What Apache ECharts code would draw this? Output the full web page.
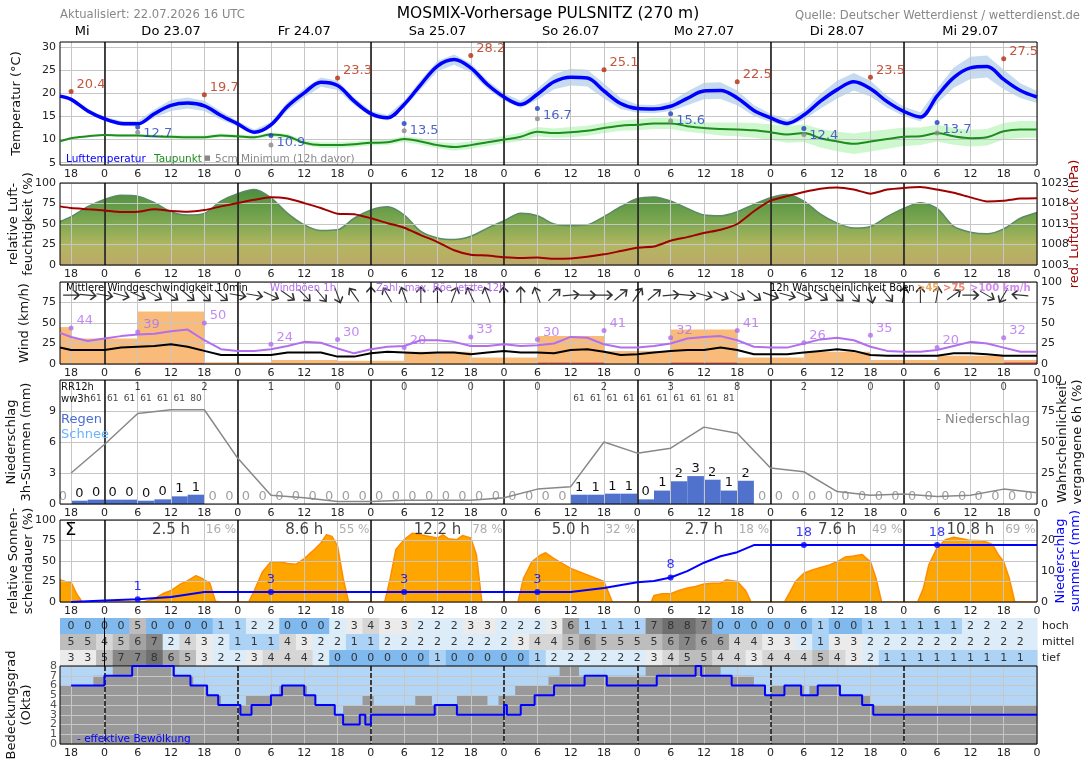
<!DOCTYPE html>
<html lang="de">
<head>
<meta charset="utf-8">
<title>MOSMIX-Vorhersage PULSNITZ</title>
<script src="https://cdn.jsdelivr.net/npm/echarts@6.0.0/dist/echarts.min.js"></script>
<style>
  html, body { margin: 0; padding: 0; background: #fff; }
  #meteogram { width: 1088px; height: 763px; }
</style>
</head>
<body>
<div id="meteogram"></div>
<script>
// time axis: hours relative to Do 23.07 00 UTC
const X_MIN = -8, X_MAX = 168;
const tickHours = [-6, 0, 6, 12, 18, 24, 30, 36, 42, 48, 54, 60, 66, 72, 78, 84, 90, 96, 102, 108, 114, 120, 126, 132, 138, 144, 150, 156, 162, 168];
const midnightHours = [0, 24, 48, 72, 96, 120, 144];
const dayHours = [-4, 12, 36, 60, 84, 108, 132, 156];
const dayNames = ['Mi', 'Do 23.07', 'Fr 24.07', 'Sa 25.07', 'So 26.07', 'Mo 27.07', 'Di 28.07', 'Mi 29.07'];

// 3-hourly series
const hours3 = [-8, -6, -3, 0, 3, 6, 9, 12, 15, 18, 21, 24, 27, 30, 33, 36, 39, 42, 45, 48, 51, 54, 57, 60, 63, 66, 69, 72, 75, 78, 81, 84, 87, 90, 93, 96, 99, 102, 105, 108, 111, 114, 117, 120, 123, 126, 129, 132, 135, 138, 141, 144, 147, 150, 153, 156, 159, 162, 165, 168];
const temperature = [19.4, 18.7, 16.2, 14.5, 13.5, 13.4, 15.6, 17.4, 17.9, 17.3, 15.2, 13.4, 11.6, 13.2, 17.2, 20.1, 22.4, 21.7, 18.3, 15.6, 14.7, 17.6, 21.9, 25.9, 27.3, 25.5, 21.9, 19.2, 17.6, 19.8, 22.5, 23.5, 23.3, 20.5, 17.8, 16.7, 16.6, 17.2, 18.9, 20.5, 20.6, 19.0, 16.3, 14.7, 13.5, 15.3, 18.3, 20.8, 22.5, 21.0, 18.2, 16.1, 14.9, 19.4, 23.4, 25.5, 25.8, 23.0, 20.6, 19.2];
const tempSpread = [0.3, 0.4, 0.4, 0.5, 0.5, 0.6, 0.9, 1.2, 1.2, 1.1, 0.9, 0.6, 0.5, 0.6, 0.9, 1.0, 1.0, 1.0, 0.8, 0.6, 0.6, 0.8, 1.0, 1.1, 1.1, 1.0, 0.9, 0.8, 0.8, 1.2, 1.6, 1.8, 1.8, 1.6, 1.2, 0.9, 0.9, 1.0, 1.5, 1.8, 1.8, 1.6, 1.2, 0.9, 0.8, 1.0, 1.6, 1.9, 1.9, 1.7, 1.3, 1.0, 1.0, 1.6, 2.2, 2.4, 2.4, 2.1, 1.6, 1.3];
const dewPoint = [9.6, 10.3, 10.7, 11.0, 10.9, 10.9, 10.7, 10.6, 10.5, 10.5, 10.9, 10.7, 10.5, 11.1, 10.7, 9.3, 8.8, 8.8, 9.0, 9.3, 9.4, 10.1, 9.6, 8.8, 8.4, 8.8, 9.4, 10.0, 10.6, 11.7, 11.4, 11.6, 11.9, 12.5, 13.0, 13.2, 13.5, 13.5, 12.9, 12.5, 12.3, 12.2, 12.0, 11.6, 11.1, 11.4, 10.3, 9.6, 9.1, 9.6, 10.1, 10.6, 10.7, 11.4, 10.7, 10.3, 10.5, 11.8, 12.2, 12.2];
const dewSpread = [0.2, 0.2, 0.2, 0.2, 0.3, 0.3, 0.3, 0.4, 0.4, 0.4, 0.4, 0.4, 0.4, 0.5, 0.5, 0.5, 0.6, 0.6, 0.6, 0.6, 0.6, 0.6, 0.7, 0.7, 0.8, 0.8, 0.8, 0.8, 0.9, 1.0, 1.0, 1.1, 1.1, 1.1, 1.1, 1.2, 1.2, 1.2, 1.2, 1.2, 1.4, 1.5, 1.6, 1.7, 1.8, 1.9, 2.0, 2.1, 2.2, 2.2, 2.1, 2.0, 1.9, 1.8, 1.8, 1.8, 1.8, 1.8, 1.8, 1.8];
const maxTempHours = [-6, 18, 42, 66, 90, 114, 138, 162];
const maxTemp = [20.4, 19.7, 23.3, 28.2, 25.1, 22.5, 23.5, 27.5];
const minTempHours = [6, 30, 54, 78, 102, 126, 150];
const minTemp = [12.7, 10.9, 13.5, 16.7, 15.6, 12.4, 13.7];
const groundMin = [11.6, 8.8, 11.9, 14.5, 14.0, 11.1, 11.4];

const humidity = [53, 59, 71, 80, 85, 84, 76, 65, 61, 63, 78, 87, 92, 82, 63, 49, 42, 43, 57, 67, 71, 61, 41, 33, 31, 35, 45, 54, 63, 60, 50, 48, 49, 59, 71, 81, 83, 78, 69, 61, 60, 65, 74, 82, 86, 78, 62, 51, 45, 47, 59, 69, 76, 69, 47, 40, 38, 44, 57, 64];
const pressure = [1017.3, 1016.9, 1016.6, 1016.3, 1015.9, 1016.0, 1016.6, 1016.2, 1016.0, 1016.4, 1017.3, 1018.1, 1018.9, 1019.5, 1019.2, 1018.1, 1016.9, 1015.5, 1015.4, 1014.4, 1013.2, 1012.1, 1010.3, 1008.6, 1006.6, 1005.5, 1005.3, 1004.9, 1004.7, 1004.8, 1004.5, 1004.6, 1005.0, 1005.6, 1006.4, 1007.2, 1007.5, 1008.9, 1009.8, 1010.8, 1011.6, 1013.0, 1016.1, 1018.7, 1019.8, 1020.8, 1021.6, 1021.9, 1021.4, 1020.4, 1021.4, 1021.8, 1022.0, 1021.4, 1020.6, 1019.5, 1018.5, 1018.7, 1019.2, 1019.3];

const windMean = [20, 17, 17, 17, 20, 21, 22, 24, 21, 16, 11, 11, 11, 11, 14, 14, 14, 9, 9, 13, 15, 14, 13, 14, 14, 12, 14, 16, 14, 14, 13, 17, 18, 15, 11, 12, 14, 16, 17, 17, 20, 17, 12, 12, 12, 14, 16, 18, 16, 11, 10, 10, 10, 10, 13, 13, 12, 10, 10, 10];
const windGust = [38, 33, 28, 31, 34, 36, 37, 40, 42, 29, 18, 16, 16, 18, 22, 27, 26, 19, 13, 18, 21, 22, 29, 29, 27, 22, 22, 24, 22, 23, 25, 33, 32, 24, 20, 20, 22, 25, 31, 33, 34, 29, 21, 20, 20, 25, 30, 32, 29, 21, 16, 15, 15, 17, 22, 27, 25, 20, 15, 15];
const gustBlockStart = [-8, -6, 6, 18, 30, 42, 54, 66, 78, 90, 102, 114, 126, 138, 150, 162];
const gustProb45 = [45, 31, 64, 2, 5, 4, 15, 8, 34, 16, 42, 8, 15, 5, 10, 5];
const gustProb75 = [0, 0, 1.5, 0, 0, 0, 0, 0, 2, 0, 2, 0, 0, 0, 0, 2.5];
const maxGustHours = [-6, 6, 18, 30, 42, 54, 66, 78, 90, 102, 114, 126, 138, 150, 162];
const maxGust = [44, 39, 50, 24, 30, 20, 33, 30, 41, 32, 41, 26, 35, 20, 32];
const arrowHours = [-6, -3, 0, 3, 6, 9, 12, 15, 18, 21, 24, 27, 30, 33, 36, 39, 42, 45, 48, 51, 54, 57, 60, 63, 66, 69, 72, 75, 78, 81, 84, 87, 90, 93, 96, 99, 102, 105, 108, 111, 114, 117, 120, 123, 126, 129, 132, 135, 138, 141, 144, 147, 150, 153, 156, 159, 162, 165];
const windDir = [270, 275, 280, 285, 295, 300, 305, 310, 315, 310, 280, 280, 295, 305, 315, 320, 340, 145, 180, 150, 160, 180, 180, 200, 155, 160, 175, 180, 160, 225, 265, 270, 270, 230, 215, 230, 265, 275, 285, 295, 300, 305, 290, 285, 295, 305, 315, 320, 345, 320, 190, 180, 190, 235, 270, 300, 30, 95];

const precipHours = [-7.5, -4.5, -1.5, 1.5, 4.5, 7.5, 10.5, 13.5, 16.5, 19.5, 22.5, 25.5, 28.5, 31.5, 34.5, 37.5, 40.5, 43.5, 46.5, 49.5, 52.5, 55.5, 58.5, 61.5, 64.5, 67.5, 70.5, 73.5, 76.5, 79.5, 82.5, 85.5, 88.5, 91.5, 94.5, 97.5, 100.5, 103.5, 106.5, 109.5, 112.5, 115.5, 118.5, 121.5, 124.5, 127.5, 130.5, 133.5, 136.5, 139.5, 142.5, 145.5, 148.5, 151.5, 154.5, 157.5, 160.5, 163.5, 166.5];
const precip3h = [0, 0.32, 0.42, 0.42, 0.42, 0.32, 0.45, 0.74, 0.9, 0, 0, 0, 0, 0, 0, 0, 0, 0, 0, 0, 0, 0, 0, 0, 0, 0, 0, 0, 0, 0, 0, 0.9, 0.9, 1.0, 1.0, 0.45, 1.3, 2.2, 2.7, 2.35, 1.3, 2.25, 0, 0, 0, 0, 0, 0, 0, 0, 0, 0, 0, 0, 0, 0, 0, 0, 0];
const probHours = [-6, 0, 6, 12, 18, 24, 30, 36, 42, 48, 54, 60, 66, 72, 78, 84, 90, 96, 102, 108, 114, 120, 126, 132, 138, 144, 150, 156, 162, 168];
const precipProb = [25, 48, 73, 76, 76, 37, 7, 5, 2, 2, 3, 3, 3, 5, 12, 14, 50, 41, 45, 62, 57, 29, 26, 10, 7, 8, 6, 7, 12, 9];
const rr12Hours = [6, 18, 30, 42, 54, 66, 78, 90, 102, 114, 126, 138, 150, 162];
const rr12 = [1, 2, 1, 0, 0, 0, 0, 2, 3, 8, 2, 0, 0, 0];
const wwHours = [-1.5, 1.5, 4.5, 7.5, 10.5, 13.5, 16.5, 85.5, 88.5, 91.5, 94.5, 97.5, 100.5, 103.5, 106.5, 109.5, 112.5];
const wwCodes = ['61', '61', '61', '61', '61', '61', '80', '61', '61', '61', '61', '61', '61', '61', '61', '61', '81'];

const sunHours = [-8, -7, -6, -5, -4, 7, 8, 9, 10.5, 12, 13.5, 15, 16.5, 17.5, 18, 19, 20, 21, 26, 27, 28.5, 30, 31.5, 33, 34.5, 36, 37.5, 39, 40, 41, 42, 43, 44, 50.5, 51.5, 52.5, 54, 55.5, 57, 58.5, 60, 61, 62, 63.5, 64.5, 66, 67, 68, 74.5, 75.5, 77, 78.5, 79.5, 81, 84, 87, 90, 91.5, 98.5, 99, 100.5, 102, 103.5, 105, 106.5, 108, 109.5, 111, 112, 114, 115.5, 116.5, 122.5, 123.5, 124.5, 126, 127.5, 129, 130.5, 132, 133.5, 135, 136.5, 138, 139, 140, 146.5, 147.5, 148.5, 150, 151.5, 153, 154.5, 156, 157.5, 159, 160, 161, 162, 163, 164, 168];
const sunPct = [27, 25, 24, 10, 0, 0, 2, 4, 10, 14, 21, 26, 32, 29, 27, 23, 1, 0, 0, 14, 37, 49, 49, 47, 46, 53, 62, 72, 82, 80, 68, 29, 0, 0, 29, 64, 76, 84, 82, 80, 78, 82, 77, 76, 81, 78, 58, 0, 0, 29, 49, 57, 60, 53, 41, 33, 25, 0, 0, 8, 10, 10, 14, 17, 19, 22, 23, 23, 27, 25, 14, 0, 0, 12, 25, 35, 39, 42, 45, 49, 55, 56, 58, 49, 29, 0, 0, 16, 45, 66, 76, 79, 77, 75, 75, 73, 70, 58, 49, 29, 0, 0];
const cumHours = [-6, 0, 6, 12, 18, 84, 90, 96, 99, 102, 105, 108, 111, 114, 117, 168];
const cumPrecip = [0, 0.5, 0.9, 1.6, 3.2, 3.2, 4.5, 6.4, 6.8, 7.9, 10.0, 12.7, 14.8, 16.1, 18.4, 18.4];
const cumDotHours = [6, 30, 54, 78, 102, 126, 150];
const cumDot = [0.9, 3.2, 3.2, 3.2, 7.9, 18.4, 18.4];
const sunDayHours = [12, 36, 60, 84, 108, 132, 156];
const sunDaySum = ['2.5 h', '8.6 h', '12.2 h', '5.0 h', '2.7 h', '7.6 h', '10.8 h'];
const sunDayPct = ['16 %', '55 %', '78 %', '32 %', '18 %', '49 %', '69 %'];

const cloudHours = arrowHours;
const cloudHigh = [0, 0, 0, 0, 5, 0, 0, 0, 0, 1, 1, 2, 2, 0, 0, 0, 2, 3, 4, 3, 3, 2, 2, 2, 3, 3, 2, 2, 2, 3, 6, 1, 1, 1, 1, 7, 8, 8, 7, 0, 0, 0, 0, 0, 0, 1, 0, 0, 1, 1, 1, 1, 1, 1, 2, 2, 2, 2];
const cloudMid = [5, 5, 4, 5, 6, 7, 2, 4, 3, 2, 1, 1, 1, 4, 3, 2, 2, 1, 1, 2, 2, 2, 2, 2, 2, 2, 2, 3, 4, 4, 5, 6, 5, 5, 5, 5, 6, 7, 6, 6, 4, 4, 3, 3, 2, 1, 3, 3, 2, 2, 2, 2, 2, 2, 2, 2, 2, 2];
const cloudLow = [3, 3, 5, 7, 7, 8, 6, 5, 3, 2, 2, 3, 4, 4, 4, 2, 0, 0, 0, 0, 0, 0, 1, 0, 0, 0, 0, 0, 1, 2, 2, 2, 2, 2, 2, 3, 4, 5, 5, 4, 4, 3, 4, 4, 4, 5, 4, 3, 2, 1, 1, 1, 1, 1, 1, 1, 1, 1];
const totalCloudT = [-8, -2, 1.5, 12.5, 16, 18.5, 21, 25.5, 31.5, 36.5, 38, 41.5, 43, 46.5, 48.5, 56, 59, 63.5, 69, 71, 74, 80, 82, 85.5, 97.5, 111, 117, 119, 120, 126, 127, 132.5, 138, 168];
const totalCloud = [6, 7, 8, 7, 6, 5, 4, 5, 6, 5, 4, 3, 4, 5, 4, 5, 4, 5, 4, 5, 6, 7, 8, 7, 8, 7, 6, 5, 6, 5, 6, 5, 4, 4];
const effCloudT = [-6, 0, 5, 12.5, 15.5, 18.5, 20.5, 24.5, 26.5, 30, 32, 36, 38, 41.5, 43, 46, 47, 48, 59.5, 63.5, 72, 72.5, 75, 77.5, 81, 86.5, 90.5, 99.5, 106.5, 107.5, 113, 119, 122.5, 125.5, 128.5, 132.5, 136.5, 138.5, 168];
const effCloud = [6, 7, 8, 7, 6, 5, 4, 3, 4, 5, 6, 5, 4, 3, 2, 3, 2, 3, 4, 3, 4, 3, 4, 5, 6, 7, 6, 7, 8, 7, 6, 5, 6, 5, 6, 5, 4, 3, 3];
const oktaTicks = [0, 1, 2, 3, 4, 5, 6, 7, 8];

const cloudColors = ['#7fb9ee', '#acd3f5', '#dcedf9', '#ebebeb', '#d6d6d6', '#bdbdbd', '#a3a3a3', '#878787', '#6f6f6f'];
const FONT = '"DejaVu Sans", sans-serif';

const pairs = (xs, ys) => xs.map((x, i) => [x, ys[i]]);
const hourLabel = (v) => String(((v % 24) + 24) % 24);

const chart = echarts.init(document.getElementById('meteogram'));

const panels = [
  { top: 42, height: 123 },
  { top: 183, height: 82 },
  { top: 282, height: 82 },
  { top: 380, height: 124 },
  { top: 520, height: 82 },
  { top: 618, height: 48 },
  { top: 666, height: 78 }
];
const grid = panels.map((p, i) => ({
  left: 60, right: 51, top: p.top, height: p.height,
  show: i !== 5, z: 4, backgroundColor: 'transparent',
  borderColor: '#000', borderWidth: 1, outerBoundsMode: 'none'
}));

function hourAxes(gi, dashed) {
  return [
    {
      type: 'value', gridIndex: gi, min: X_MIN, max: X_MAX, position: 'bottom', z: 3,
      axisLine: { show: false }, axisTick: { show: false, customValues: tickHours },
      axisLabel: { customValues: tickHours, formatter: hourLabel, margin: 4, color: '#222', fontSize: 11 },
      splitLine: { show: true, lineStyle: { color: '#c6c6c6', width: 1 } }
    },
    {
      type: 'value', gridIndex: gi, min: X_MIN, max: X_MAX, position: 'top', z: 3,
      axisLine: { show: false }, axisTick: { show: false, customValues: midnightHours },
      axisLabel: { show: false },
      splitLine: { show: true, lineStyle: { color: '#1a1a1a', width: 1.6, type: dashed ? [5, 2] : 'solid' } }
    }
  ];
}

const xAxis = [];
for (let gi = 0; gi < 7; gi++) {
  if (gi === 5) {
    xAxis.push({ type: 'value', gridIndex: 5, min: X_MIN, max: X_MAX, show: false });
  } else {
    xAxis.push(...hourAxes(gi, gi === 6));
  }
}
// day names above the temperature panel
xAxis[1].axisLabel = {
  show: true, customValues: dayHours, margin: 4, color: '#000', fontSize: 13,
  formatter: (v) => dayNames[dayHours.indexOf(v)]
};

const baseLabel = { color: '#222', fontSize: 11, margin: 4, formatter: (v) => String(v), showMinLabel: true, showMaxLabel: true };
const baseY = {
  type: 'value', z: 3, nameLocation: 'middle', nameRotate: 90, nameMoveOverlap: false,
  nameTextStyle: { fontSize: 13, color: '#111', lineHeight: 15 },
  axisLine: { show: false }, axisTick: { show: false },
  axisLabel: baseLabel,
  splitLine: { show: true, lineStyle: { color: '#c6c6c6', width: 1 } }
};
const lbl = (extra) => Object.assign({}, baseLabel, extra);
const yAxis = [
  Object.assign({}, baseY, { gridIndex: 0, min: 4.5, max: 31.1, name: 'Temperatur (°C)', nameGap: 36,
    axisTick: { show: false, customValues: [5, 10, 15, 20, 25, 30] },
    axisLabel: lbl({ customValues: [5, 10, 15, 20, 25, 30] }) }),
  Object.assign({}, baseY, { gridIndex: 1, min: 0, max: 100, interval: 25, name: 'relative Luft-\nfeuchtigkeit (%)', nameGap: 24 }),
  Object.assign({}, baseY, { gridIndex: 1, min: 1003, max: 1023, interval: 5, position: 'right', splitLine: { show: false },
    name: 'red. Luftdruck (hPa)', nameGap: 31, nameTextStyle: { fontSize: 13, color: '#a00000' } }),
  Object.assign({}, baseY, { gridIndex: 2, min: 0, max: 100, interval: 25, name: 'Wind (km/h)', nameGap: 28,
    axisLabel: lbl({ showMaxLabel: false }) }),
  Object.assign({}, baseY, { gridIndex: 2, min: 0, max: 100, interval: 25, position: 'right', splitLine: { show: false } }),
  Object.assign({}, baseY, { gridIndex: 3, min: 0, max: 12, interval: 3, name: 'Niederschlag\n3h-Summen (mm)', nameGap: 26,
    axisLabel: lbl({ showMaxLabel: false }) }),
  Object.assign({}, baseY, { gridIndex: 3, min: 0, max: 100, interval: 25, position: 'right', splitLine: { show: false },
    name: 'Wahrscheinlichkeit\nvergangene 6h (%)', nameGap: 18 }),
  Object.assign({}, baseY, { gridIndex: 4, min: 0, max: 100, interval: 25, name: 'relative Sonnen-\nscheindauer (%)', nameGap: 24 }),
  Object.assign({}, baseY, { gridIndex: 4, min: 0, max: 26.5, position: 'right', splitLine: { show: false },
    axisTick: { show: false, customValues: [0, 10, 20] },
    axisLabel: lbl({ customValues: [0, 10, 20] }),
    name: 'Niederschlag\nsummiert (mm)', nameGap: 16, nameTextStyle: { fontSize: 13, color: '#0000ff', lineHeight: 15 } }),
  { type: 'category', gridIndex: 5, position: 'right', data: ['tief', 'mittel', 'hoch'], z: 3,
    axisLine: { show: true, lineStyle: { color: '#000', width: 1 } }, axisTick: { show: false },
    axisLabel: { color: '#222', fontSize: 11, margin: 5 }, splitLine: { show: false } },
  // okta tick labels are drawn by a label series below (the axis would thin them out)
  Object.assign({}, baseY, { gridIndex: 6, min: 0, max: 8, interval: 1, name: 'Bedeckungsgrad\n(Okta)', nameGap: 26,
    axisLabel: { show: false } })
];

// spread band drawn as one polygon through the panel's scales
function bandSeries(values, spread, color) {
  return {
    type: 'custom', xAxisIndex: 0, yAxisIndex: 0, z: 1, silent: true,
    data: [[hours3[0], values[0]]], encode: { x: 0, y: 1 },
    renderItem: (params, api) => {
      const upper = hours3.map((h, i) => api.coord([h, values[i] + spread[i]]));
      const lower = hours3.map((h, i) => api.coord([h, values[i] - spread[i]])).reverse();
      return { type: 'polygon', shape: { points: upper.concat(lower) }, style: { fill: color } };
    }
  };
}

function renderBlock(params, api) {
  const a = api.coord([api.value(0), api.value(2)]);
  const b = api.coord([api.value(1), 0]);
  return { type: 'rect', shape: { x: a[0], y: a[1], width: b[0] - a[0], height: b[1] - a[1] }, style: { fill: api.visual('color') } };
}

function renderPrecip(params, api) {
  const c = api.value(0), v = api.value(1);
  const a = api.coord([Math.max(c - 1.5, X_MIN), v]);
  const b = api.coord([Math.min(c + 1.5, X_MAX), 0]);
  const m = api.coord([c, v]);
  const kids = [];
  if (v > 0) {
    kids.push({ type: 'rect', shape: { x: a[0], y: a[1], width: b[0] - a[0], height: b[1] - a[1] }, style: { fill: '#5072cc' } });
  }
  kids.push({ type: 'text', x: m[0], y: v > 0 ? a[1] - 1 : b[1] - 1, z2: 5,
    style: { text: String(Math.round(v)), align: 'center', verticalAlign: 'bottom',
      fill: v > 0 ? '#111' : '#a0a0a0', font: '13px ' + FONT } });
  return { type: 'group', children: kids };
}

const cloudCells = [];
[cloudLow, cloudMid, cloudHigh].forEach((row, r) => row.forEach((v, i) => cloudCells.push([cloudHours[i], r, v, i])));

function renderCloudCell(params, api) {
  const h = api.value(0), r = api.value(1), v = api.value(2), i = api.value(3);
  const x0 = i === 0 ? X_MIN : h - 1.5;
  const x1 = i === cloudHours.length - 1 ? X_MAX : h + 1.5;
  const a = api.coord([x0, r]), b = api.coord([x1, r]), c = api.coord([h, r]);
  const bh = api.size([0, 1])[1];
  return { type: 'group', children: [
    { type: 'rect', shape: { x: a[0], y: a[1] - bh / 2, width: b[0] - a[0] + 0.6, height: bh }, style: { fill: cloudColors[v] } },
    { type: 'text', x: c[0], y: c[1], style: { text: String(v), align: 'center', verticalAlign: 'middle', fill: '#333', font: '11px ' + FONT } }
  ] };
}

const textDot = () => ({ symbolSize: 0.1, itemStyle: { color: 'rgba(0,0,0,0)' } });

const series = [
  // --- temperature panel
  bandSeries(temperature, tempSpread, '#c6dbf0'),
  bandSeries(dewPoint, dewSpread, 'rgba(200,246,200,0.9)'),
  { type: 'line', xAxisIndex: 0, yAxisIndex: 0, data: pairs(hours3, dewPoint), smooth: 0.35, symbol: 'none',
    lineStyle: { color: '#1e8c1e', width: 2 }, z: 5 },
  { type: 'line', xAxisIndex: 0, yAxisIndex: 0, data: pairs(hours3, temperature), smooth: 0.35, symbol: 'none',
    lineStyle: { color: '#0000ff', width: 3.5 }, z: 5 },
  { type: 'scatter', xAxisIndex: 0, yAxisIndex: 0, data: pairs(maxTempHours, maxTemp), symbolSize: 5,
    itemStyle: { color: '#b42c0c' }, z: 6,
    label: { show: true, position: 'right', distance: 3, offset: [0, -7], color: '#b42c0c', fontSize: 13,
      formatter: (p) => p.value[1].toFixed(1) } },
  { type: 'scatter', xAxisIndex: 0, yAxisIndex: 0, data: pairs(minTempHours, groundMin), symbolSize: 5,
    itemStyle: { color: '#8a8a8a' }, z: 6 },
  { type: 'scatter', xAxisIndex: 0, yAxisIndex: 0, data: pairs(minTempHours, minTemp), symbolSize: 5,
    itemStyle: { color: '#1f3fbf' }, z: 6,
    label: { show: true, position: 'right', distance: 3, offset: [0, 7], color: '#1f3fbf', fontSize: 13,
      formatter: (p) => p.value[1].toFixed(1) } },

  // --- humidity / pressure
  { type: 'line', xAxisIndex: 2, yAxisIndex: 1, data: pairs(hours3, humidity), smooth: 0.3, symbol: 'none', z: 1,
    lineStyle: { color: '#5b8a66', width: 1.5 },
    areaStyle: { opacity: 1, color: new echarts.graphic.LinearGradient(0, 0, 0, 1, [
      { offset: 0, color: '#4a8f3e' }, { offset: 0.45, color: '#80a852' },
      { offset: 0.75, color: '#b3b660' }, { offset: 1, color: '#bca86a' }]) } },
  { type: 'line', xAxisIndex: 2, yAxisIndex: 2, data: pairs(hours3, pressure), smooth: 0.2, symbol: 'none',
    lineStyle: { color: '#a00000', width: 2 }, z: 5 },

  // --- wind
  { type: 'custom', xAxisIndex: 4, yAxisIndex: 3, renderItem: renderBlock, encode: { x: [0, 1], y: 2 }, z: 1,
    itemStyle: { color: '#f9bb7a' },
    data: gustBlockStart.map((s, i) => [s, i + 1 < gustBlockStart.length ? gustBlockStart[i + 1] : X_MAX, gustProb45[i]]) },
  { type: 'custom', xAxisIndex: 4, yAxisIndex: 3, renderItem: renderBlock, encode: { x: [0, 1], y: 2 }, z: 1,
    itemStyle: { color: '#f07a6a' },
    data: gustBlockStart.map((s, i) => [s, i + 1 < gustBlockStart.length ? gustBlockStart[i + 1] : X_MAX, gustProb75[i]]) },
  { type: 'line', xAxisIndex: 4, yAxisIndex: 3, data: pairs(hours3, windMean), symbol: 'none',
    lineStyle: { color: '#000', width: 2 }, z: 5 },
  { type: 'line', xAxisIndex: 4, yAxisIndex: 3, data: pairs(hours3, windGust), symbol: 'none',
    lineStyle: { color: '#b36ef0', width: 2 }, z: 5 },
  { type: 'scatter', xAxisIndex: 4, yAxisIndex: 3, data: pairs(maxGustHours, maxGust), symbolSize: 5,
    itemStyle: { color: '#b36ef0' }, z: 6,
    label: { show: true, position: 'right', distance: 3, offset: [0, -7], color: '#b36ef0', fontSize: 13,
      formatter: (p) => String(p.value[1]) } },
  { type: 'scatter', xAxisIndex: 4, yAxisIndex: 3, z: 6,
    data: arrowHours.map((h, i) => [h, 84, windDir[i]]),
    symbol: 'path://M5,20 L5,1 M0,7 L5,1 L10,7', symbolSize: [9, 16], symbolKeepAspect: false,
    symbolRotate: (val) => -(val[2] + 180),
    itemStyle: { color: 'none', borderColor: '#000', borderWidth: 1.5 } },

  // --- precipitation
  { type: 'custom', xAxisIndex: 6, yAxisIndex: 5, renderItem: renderPrecip, encode: { x: 0, y: 1 }, z: 2,
    data: pairs(precipHours, precip3h) },
  { type: 'line', xAxisIndex: 6, yAxisIndex: 6, data: pairs(probHours, precipProb), symbol: 'none',
    lineStyle: { color: '#888', width: 1.5 }, z: 5 },
  Object.assign({ type: 'scatter', xAxisIndex: 6, yAxisIndex: 5, data: pairs(rr12Hours, rr12.map(() => 11.3)), z: 6,
    label: { show: true, position: 'inside', color: '#111', fontSize: 10, formatter: (p) => String(rr12[p.dataIndex]) } }, textDot()),
  Object.assign({ type: 'scatter', xAxisIndex: 6, yAxisIndex: 5, data: pairs(wwHours, wwCodes.map(() => 10.2)), z: 6,
    label: { show: true, position: 'inside', color: '#111', fontSize: 9, formatter: (p) => wwCodes[p.dataIndex] } }, textDot()),

  // --- sunshine / accumulated precipitation
  { type: 'line', xAxisIndex: 8, yAxisIndex: 7, data: pairs(sunHours, sunPct), symbol: 'none', z: 1,
    lineStyle: { color: '#ff8c00', width: 1.5 }, areaStyle: { color: '#ffa500', opacity: 1 } },
  { type: 'line', xAxisIndex: 8, yAxisIndex: 8, data: pairs(cumHours, cumPrecip), symbol: 'none',
    lineStyle: { color: '#0000ff', width: 2 }, z: 5 },
  { type: 'scatter', xAxisIndex: 8, yAxisIndex: 8, data: pairs(cumDotHours, cumDot), symbolSize: 6,
    itemStyle: { color: '#0000ff' }, z: 6,
    label: { show: true, position: 'top', distance: 3, color: '#0000ff', fontSize: 13,
      formatter: (p) => String(Math.round(p.value[1])) } },
  Object.assign({ type: 'scatter', xAxisIndex: 8, yAxisIndex: 7, data: pairs(sunDayHours, sunDaySum.map(() => 88)), z: 6,
    label: { show: true, position: 'inside', color: '#111', fontSize: 15, formatter: (p) => sunDaySum[p.dataIndex] } }, textDot()),
  Object.assign({ type: 'scatter', xAxisIndex: 8, yAxisIndex: 7, data: pairs(sunDayHours, sunDayPct.map(() => 88)), z: 6,
    label: { show: true, position: 'inside', offset: [50, 0], color: '#999', fontSize: 12, formatter: (p) => sunDayPct[p.dataIndex] } }, textDot()),

  // --- cloud layers table
  { type: 'custom', xAxisIndex: 10, yAxisIndex: 9, renderItem: renderCloudCell, encode: { x: 0, y: 1 }, data: cloudCells, z: 1 },

  // --- cloud cover
  { type: 'line', xAxisIndex: 11, yAxisIndex: 10, data: [[X_MIN, 8], [X_MAX, 8]], symbol: 'none', silent: true, z: 0,
    lineStyle: { opacity: 0 }, areaStyle: { color: '#b3d6f6', opacity: 1 } },
  { type: 'line', xAxisIndex: 11, yAxisIndex: 10, data: pairs(totalCloudT, totalCloud), step: 'end', symbol: 'none', z: 1,
    lineStyle: { opacity: 0 }, areaStyle: { color: '#999999', opacity: 1 } },
  { type: 'line', xAxisIndex: 11, yAxisIndex: 10, data: pairs(effCloudT, effCloud), step: 'end', symbol: 'none', z: 5,
    lineStyle: { color: '#0000ff', width: 2 } },
  Object.assign({ type: 'scatter', xAxisIndex: 11, yAxisIndex: 10, clip: false, z: 6, silent: true,
    data: oktaTicks.map((k) => [X_MIN, k]),
    label: { show: true, position: 'left', distance: 3, color: '#222', fontSize: 11, formatter: (p) => String(p.value[1]) } }, textDot())
];

const t = (x, y, text, fill, size, extra) => Object.assign({
  type: 'text', x, y, z: 10, silent: true,
  style: Object.assign({ text, fill, font: size + 'px ' + FONT, align: 'left', verticalAlign: 'middle' }, extra || {})
});
const graphic = [
  t(548, 14, 'MOSMIX-Vorhersage PULSNITZ (270 m)', '#000', 15.5, { align: 'center' }),
  t(60, 15, 'Aktualisiert: 22.07.2026 16 UTC', '#888', 11.6),
  t(1080, 16, 'Quelle: Deutscher Wetterdienst / wetterdienst.de', '#888', 11.6, { align: 'right' }),
  t(66, 159, 'Lufttemperatur', '#0000ff', 10.5),
  t(154, 159, 'Taupunkt', '#1e8c1e', 10.5),
  t(204, 158, '■', '#888', 7),
  t(215, 159, '5cm Minimum (12h davor)', '#888', 10.5),
  t(66, 288, 'Mittlere Windgeschwindigkeit 10min', '#000', 10),
  t(270, 288, 'Windböen 1h', '#b36ef0', 10),
  t(376, 288, 'Zahl: max. Böe letzte 12h', '#b36ef0', 10),
  t(770, 288, '12h Wahrscheinlichkeit Böen', '#000', 10),
  t(917, 288, '>45', '#f0a860', 10, { font: 'bold 10px ' + FONT }),
  t(943, 288, '>75', '#f08070', 10, { font: 'bold 10px ' + FONT }),
  t(970, 288, '>100 km/h', '#d48af0', 10, { font: 'bold 10px ' + FONT }),
  t(61, 387, 'RR12h', '#111', 10),
  t(61, 399, 'ww3h', '#111', 10),
  t(61, 420, 'Regen', '#4a6cd4', 13),
  t(61, 435, 'Schnee', '#6ab2ff', 13),
  t(1030, 420, '- Niederschlag', '#888', 13, { align: 'right' }),
  t(65, 530, 'Σ', '#000', 18),
  t(77, 739, '- effektive Bewölkung', '#0000ff', 10.5)
];

chart.setOption({
  animation: false,
  backgroundColor: '#fff',
  textStyle: { fontFamily: FONT },
  grid, xAxis, yAxis, series, graphic
});
</script>
</body>
</html>
